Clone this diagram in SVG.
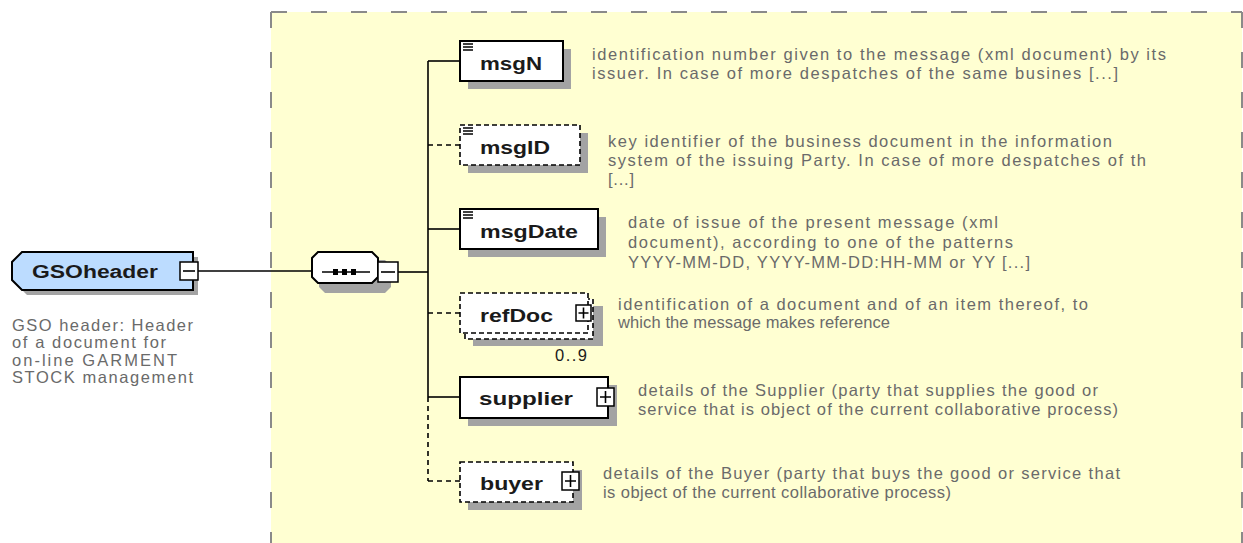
<svg xmlns="http://www.w3.org/2000/svg" width="1243" height="543" viewBox="0 0 1243 543">
<style>
.bg{fill:#ffffd2}
.bd{stroke:#8a8a8a;stroke-width:2;stroke-dasharray:16 24;fill:none}
.sh{fill:#a3a3a3}
.box{fill:#fff;stroke:#000;stroke-width:2}
.dbox{fill:#fff;stroke:#000;stroke-width:1.6;stroke-dasharray:5 3}
.ln{stroke:#000;stroke-width:1.6;fill:none}
.dln{stroke:#000;stroke-width:1.6;fill:none;stroke-dasharray:5 4}
.lbl{font-family:"Liberation Sans",Arial,sans-serif;font-weight:bold;font-size:18px;fill:#1a1a1a}
.dsc{font-family:"Liberation Sans",Arial,sans-serif;font-size:16.5px;fill:#6a6a6a}
.pm{fill:#fff;stroke:#000;stroke-width:1.5}
</style>
<rect class="bg" x="271" y="12" width="971" height="531"/>
<path class="bd" d="M271 12 V543 M1242 12 V543 M271 12 H1242"/>

<g id="connectors">
  <path class="ln" d="M198 271 H312"/>
  <path class="ln" d="M398 272 H428"/>
  <path class="ln" d="M428 61 V397"/>
  <path class="dln" d="M428 397 V481"/>
  <path class="ln" d="M428 61 H460"/>
  <path class="dln" d="M428 145 H460"/>
  <path class="ln" d="M428 229 H460"/>
  <path class="dln" d="M428 313 H460"/>
  <path class="ln" d="M428 397 H460"/>
  <path class="dln" d="M428 481 H460"/>
</g>

<g id="GSOheader">
  <polygon class="sh" points="27,257 198,257 198,295 27,295 17,285 17,267"/>
  <polygon points="22,252 193,252 193,290 22,290 12,280 12,262" fill="#bcdcff" stroke="#000" stroke-width="2"/>
  <text class="lbl" x="32" y="278" font-size="20" textLength="126" lengthAdjust="spacingAndGlyphs">GSOheader</text>
  <rect class="pm" x="180" y="262" width="18" height="18"/>
  <path class="ln" d="M183 271 H195"/>
  <text class="dsc" x="12" y="331" textLength="181" lengthAdjust="spacing">GSO header: Header</text>
  <text class="dsc" x="12" y="348" textLength="154" lengthAdjust="spacing">of a document for</text>
  <text class="dsc" x="12" y="366" textLength="165" lengthAdjust="spacing">on-line GARMENT</text>
  <text class="dsc" x="12" y="383" textLength="181" lengthAdjust="spacing">STOCK management</text>
</g>

<g id="sequence">
  <polygon class="sh" points="325,260 385,260 391,266 391,287 385,293 325,293 319,287 319,266"/>
  <polygon points="318,252 372,252 378,258 378,277 372,283 318,283 312,277 312,258" fill="#fff" stroke="#000" stroke-width="2"/>
  <path class="ln" d="M322 272 H370"/>
  <rect x="333" y="269" width="5" height="6" fill="#000"/>
  <rect x="342" y="269" width="5" height="6" fill="#000"/>
  <rect x="351" y="269" width="5" height="6" fill="#000"/>
  <rect class="pm" x="378" y="262" width="20" height="20"/>
  <path class="ln" d="M381 272 H395"/>
</g>

<g id="msgN">
  <rect class="sh" x="468" y="49" width="103" height="40"/>
  <rect class="box" x="460" y="41" width="103" height="40"/>
  <path class="ln" d="M463 44 H473 M463 47 H473 M463 50 H473"/>
  <text class="lbl" x="480" y="70" textLength="62" lengthAdjust="spacingAndGlyphs">msgN</text>
  <text class="dsc" x="592" y="60" textLength="574" lengthAdjust="spacing">identification number given to the message (xml document) by its</text>
  <text class="dsc" x="592" y="79" textLength="526" lengthAdjust="spacing">issuer. In case of more despatches of the same busines [...]</text>
</g>

<g id="msgID">
  <rect class="sh" x="468" y="133" width="120" height="40"/>
  <rect class="dbox" x="460" y="125" width="120" height="40"/>
  <path class="ln" d="M463 128 H473 M463 131 H473 M463 134 H473"/>
  <text class="lbl" x="480" y="154" textLength="70" lengthAdjust="spacingAndGlyphs">msgID</text>
  <text class="dsc" x="608" y="147" textLength="504" lengthAdjust="spacing">key identifier of the business document in the information</text>
  <text class="dsc" x="608" y="166" textLength="538" lengthAdjust="spacing">system of the issuing Party. In case of more despatches of th</text>
  <text class="dsc" x="608" y="185" textLength="26" lengthAdjust="spacing">[...]</text>
</g>

<g id="msgDate">
  <rect class="sh" x="468" y="217" width="138" height="40"/>
  <rect class="box" x="460" y="209" width="138" height="40"/>
  <path class="ln" d="M463 212 H473 M463 215 H473 M463 218 H473"/>
  <text class="lbl" x="480" y="238" textLength="98" lengthAdjust="spacingAndGlyphs">msgDate</text>
  <text class="dsc" x="628" y="228" textLength="370" lengthAdjust="spacing">date of issue of the present message (xml</text>
  <text class="dsc" x="628" y="248" textLength="385" lengthAdjust="spacing">document), according to one of the patterns</text>
  <text class="dsc" x="628" y="268" textLength="402" lengthAdjust="spacing">YYYY-MM-DD, YYYY-MM-DD:HH-MM or YY [...]</text>
</g>

<g id="refDoc">
  <rect class="sh" x="473" y="306" width="130" height="40"/>
  <rect class="dbox" x="465" y="299" width="128" height="40"/>
  <rect class="dbox" x="460" y="293" width="128" height="40"/>
  <text class="lbl" x="480" y="322" textLength="73" lengthAdjust="spacingAndGlyphs">refDoc</text>
  <rect class="pm" x="576" y="305" width="15" height="16"/>
  <path class="ln" d="M578.5 313 H588.5 M583.5 307.5 V318.5"/>
  <text class="dsc" x="555" y="361" textLength="32" lengthAdjust="spacing" style="fill:#1a1a1a">0..9</text>
  <text class="dsc" x="618" y="310" textLength="470" lengthAdjust="spacing">identification of a document and of an item thereof, to</text>
  <text class="dsc" x="618" y="328" textLength="272" lengthAdjust="spacing">which the message makes reference</text>
</g>

<g id="supplier">
  <rect class="sh" x="468" y="385" width="149" height="41"/>
  <rect class="box" x="460" y="377" width="148" height="41"/>
  <text class="lbl" x="479" y="405" textLength="94" lengthAdjust="spacingAndGlyphs">supplier</text>
  <rect class="pm" x="597" y="388" width="17" height="18"/>
  <path class="ln" d="M600 397 H611 M605.5 391 V403"/>
  <text class="dsc" x="638" y="396" textLength="460" lengthAdjust="spacing">details of the Supplier (party that supplies the good or</text>
  <text class="dsc" x="638" y="415" textLength="480" lengthAdjust="spacing">service that is object of the current collaborative process)</text>
</g>

<g id="buyer">
  <rect class="sh" x="468" y="470" width="114" height="40"/>
  <rect class="dbox" x="460" y="462" width="113" height="40"/>
  <text class="lbl" x="480" y="490" textLength="63" lengthAdjust="spacingAndGlyphs">buyer</text>
  <rect class="pm" x="562" y="472" width="17" height="18"/>
  <path class="ln" d="M565 481 H576 M570.5 475 V487"/>
  <text class="dsc" x="603" y="479" textLength="517" lengthAdjust="spacing">details of the Buyer (party that buys the good or service that</text>
  <text class="dsc" x="603" y="498" textLength="348" lengthAdjust="spacing">is object of the current collaborative process)</text>
</g>
</svg>
